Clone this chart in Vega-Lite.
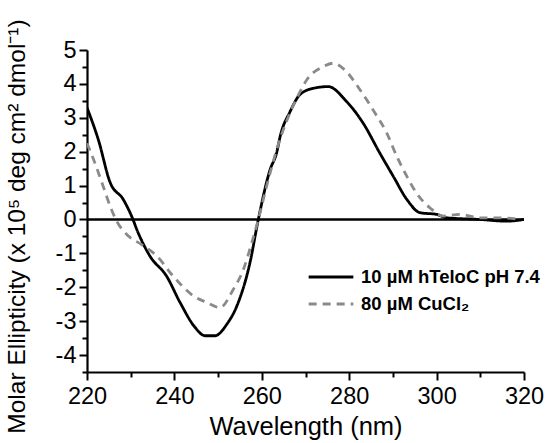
{
  "$schema": "https://vega.github.io/schema/vega-lite/v6.json",
  "width": 437,
  "height": 322,
  "autosize": "none",
  "padding": {"left": 87, "top": 50, "right": 23, "bottom": 71},
  "background": "white",
  "config": {
    "view": {"stroke": null},
    "font": "Liberation Sans",
    "axis": {"grid": false, "domainColor": "black", "domainWidth": 2.2, "tickColor": "black", "tickWidth": 2, "labelColor": "black", "titleColor": "black", "labelFont": "Liberation Sans", "titleFont": "Liberation Sans", "labelFontSize": 23.5, "titleFontSize": 25.5, "titleFontWeight": "normal", "labelOverlap": false, "labelFlush": false}
  },
  "resolve": {"axis": {"x": "independent", "y": "independent"}},
  "datasets": {
    "curves": [
      {"wl": 220, "v": 3.3, "s": "10 µM hTeloC pH 7.4"},
      {"wl": 222.6, "v": 2.35, "s": "10 µM hTeloC pH 7.4"},
      {"wl": 225.3, "v": 1.09, "s": "10 µM hTeloC pH 7.4"},
      {"wl": 228.3, "v": 0.59, "s": "10 µM hTeloC pH 7.4"},
      {"wl": 230.2, "v": 0.1, "s": "10 µM hTeloC pH 7.4"},
      {"wl": 231.7, "v": -0.39, "s": "10 µM hTeloC pH 7.4"},
      {"wl": 234.4, "v": -1.08, "s": "10 µM hTeloC pH 7.4"},
      {"wl": 238.2, "v": -1.67, "s": "10 µM hTeloC pH 7.4"},
      {"wl": 241.3, "v": -2.45, "s": "10 µM hTeloC pH 7.4"},
      {"wl": 244.7, "v": -3.18, "s": "10 µM hTeloC pH 7.4"},
      {"wl": 247, "v": -3.43, "s": "10 µM hTeloC pH 7.4"},
      {"wl": 249.3, "v": -3.43, "s": "10 µM hTeloC pH 7.4"},
      {"wl": 252, "v": -3.09, "s": "10 µM hTeloC pH 7.4"},
      {"wl": 254.3, "v": -2.55, "s": "10 µM hTeloC pH 7.4"},
      {"wl": 257.3, "v": -1.27, "s": "10 µM hTeloC pH 7.4"},
      {"wl": 259.2, "v": 0, "s": "10 µM hTeloC pH 7.4"},
      {"wl": 261.9, "v": 1.47, "s": "10 µM hTeloC pH 7.4"},
      {"wl": 263.4, "v": 1.97, "s": "10 µM hTeloC pH 7.4"},
      {"wl": 264.2, "v": 2.45, "s": "10 µM hTeloC pH 7.4"},
      {"wl": 266.5, "v": 3.19, "s": "10 µM hTeloC pH 7.4"},
      {"wl": 268.7, "v": 3.68, "s": "10 µM hTeloC pH 7.4"},
      {"wl": 271.8, "v": 3.87, "s": "10 µM hTeloC pH 7.4"},
      {"wl": 275.2, "v": 3.92, "s": "10 µM hTeloC pH 7.4"},
      {"wl": 279.4, "v": 3.48, "s": "10 µM hTeloC pH 7.4"},
      {"wl": 283.2, "v": 2.84, "s": "10 µM hTeloC pH 7.4"},
      {"wl": 287, "v": 1.96, "s": "10 µM hTeloC pH 7.4"},
      {"wl": 290.1, "v": 1.27, "s": "10 µM hTeloC pH 7.4"},
      {"wl": 293.2, "v": 0.59, "s": "10 µM hTeloC pH 7.4"},
      {"wl": 296.2, "v": 0.2, "s": "10 µM hTeloC pH 7.4"},
      {"wl": 300, "v": 0.15, "s": "10 µM hTeloC pH 7.4"},
      {"wl": 302.3, "v": 0.05, "s": "10 µM hTeloC pH 7.4"},
      {"wl": 309.9, "v": 0.0, "s": "10 µM hTeloC pH 7.4"},
      {"wl": 316, "v": -0.05, "s": "10 µM hTeloC pH 7.4"},
      {"wl": 320, "v": 0.0, "s": "10 µM hTeloC pH 7.4"},
      {"wl": 220, "v": 2.25, "s": "80 µM CuCl₂"},
      {"wl": 221.8, "v": 1.67, "s": "80 µM CuCl₂"},
      {"wl": 223.7, "v": 0.98, "s": "80 µM CuCl₂"},
      {"wl": 225.3, "v": 0.39, "s": "80 µM CuCl₂"},
      {"wl": 226.8, "v": -0.05, "s": "80 µM CuCl₂"},
      {"wl": 229.5, "v": -0.49, "s": "80 µM CuCl₂"},
      {"wl": 232.5, "v": -0.74, "s": "80 µM CuCl₂"},
      {"wl": 236, "v": -1.08, "s": "80 µM CuCl₂"},
      {"wl": 239.7, "v": -1.67, "s": "80 µM CuCl₂"},
      {"wl": 244.3, "v": -2.25, "s": "80 µM CuCl₂"},
      {"wl": 247.4, "v": -2.45, "s": "80 µM CuCl₂"},
      {"wl": 250.4, "v": -2.6, "s": "80 µM CuCl₂"},
      {"wl": 253.5, "v": -2.06, "s": "80 µM CuCl₂"},
      {"wl": 255.8, "v": -1.47, "s": "80 µM CuCl₂"},
      {"wl": 257.7, "v": -0.69, "s": "80 µM CuCl₂"},
      {"wl": 259.2, "v": 0, "s": "80 µM CuCl₂"},
      {"wl": 261.1, "v": 0.98, "s": "80 µM CuCl₂"},
      {"wl": 263.4, "v": 2.06, "s": "80 µM CuCl₂"},
      {"wl": 266.1, "v": 3.04, "s": "80 µM CuCl₂"},
      {"wl": 268.2, "v": 3.63, "s": "80 µM CuCl₂"},
      {"wl": 270.3, "v": 4.12, "s": "80 µM CuCl₂"},
      {"wl": 274.1, "v": 4.51, "s": "80 µM CuCl₂"},
      {"wl": 276.4, "v": 4.61, "s": "80 µM CuCl₂"},
      {"wl": 279, "v": 4.41, "s": "80 µM CuCl₂"},
      {"wl": 282.5, "v": 3.82, "s": "80 µM CuCl₂"},
      {"wl": 285.9, "v": 3.14, "s": "80 µM CuCl₂"},
      {"wl": 288.6, "v": 2.55, "s": "80 µM CuCl₂"},
      {"wl": 290.9, "v": 1.86, "s": "80 µM CuCl₂"},
      {"wl": 293.2, "v": 1.27, "s": "80 µM CuCl₂"},
      {"wl": 295.4, "v": 0.78, "s": "80 µM CuCl₂"},
      {"wl": 298.5, "v": 0.34, "s": "80 µM CuCl₂"},
      {"wl": 301.5, "v": 0.1, "s": "80 µM CuCl₂"},
      {"wl": 305.4, "v": 0.15, "s": "80 µM CuCl₂"},
      {"wl": 309.9, "v": 0.05, "s": "80 µM CuCl₂"},
      {"wl": 314.5, "v": 0.05, "s": "80 µM CuCl₂"},
      {"wl": 319.1, "v": 0.0, "s": "80 µM CuCl₂"}
    ],
    "zero": [{"z": 0}]
  },
  "layer": [
    {
      "data": {"name": "curves"},
      "mark": {"type": "line", "opacity": 0},
      "encoding": {
        "x": {
          "field": "wl", "type": "quantitative",
          "scale": {"domain": [220, 320], "nice": false, "zero": false},
          "axis": {"orient": "bottom", "title": null, "values": [230, 250, 270, 290, 310], "labels": false, "domain": false, "tickSize": 5}
        },
        "y": {
          "field": "v", "type": "quantitative",
          "scale": {"domain": [-4.5, 5], "nice": false, "zero": false},
          "axis": {"orient": "left", "title": null, "values": [-4.5, -3.5, -2.5, -1.5, -0.5, 0.5, 1.5, 2.5, 3.5, 4.5], "labels": false, "domain": false, "tickSize": 5}
        }
      }
    },
    {
      "data": {"name": "zero"},
      "mark": {"type": "rule", "color": "black", "strokeWidth": 2.5},
      "encoding": {"y": {"field": "z", "type": "quantitative", "axis": null}}
    },
    {
      "data": {"name": "curves"},
      "mark": {"type": "line", "interpolate": "monotone", "clip": true},
      "encoding": {
        "x": {
          "field": "wl", "type": "quantitative",
          "axis": {
            "orient": "bottom",
            "title": "Wavelength (nm)",
            "values": [220, 240, 260, 280, 300, 320],
            "tickSize": 8, "labelPadding": 4, "titlePadding": 7
          }
        },
        "y": {
          "field": "v", "type": "quantitative",
          "axis": {
            "orient": "left",
            "title": "Molar Ellipticity (x 10⁵ deg cm² dmol⁻¹)",
            "titleFontSize": 24.5,
            "values": [-4, -3, -2, -1, 0, 1, 2, 3, 4, 5],
            "labelExpr": "'' + datum.value",
            "tickSize": 8, "labelPadding": 3, "titleX": -70, "titleY": 176, "titleAngle": -90, "titleBaseline": "middle", "titleAlign": "center"
          }
        },
        "color": {
          "field": "s", "type": "nominal",
          "scale": {"domain": ["10 µM hTeloC pH 7.4", "80 µM CuCl₂"], "range": ["#000000", "#8a8a8a"]},
          "legend": {"title": null, "orient": "none", "legendX": 220, "legendY": 216, "symbolType": "stroke", "symbolSize": 2000, "symbolStrokeWidth": 3, "clipHeight": 22, "labelFontSize": 18.5, "labelFontWeight": "bold", "labelColor": "black", "labelFont": "Liberation Sans", "labelLimit": 300, "rowPadding": 5, "labelOffset": 6}
        },
        "strokeDash": {
          "field": "s", "type": "nominal",
          "scale": {"domain": ["10 µM hTeloC pH 7.4", "80 µM CuCl₂"], "range": [[1, 0], [8, 6]]},
          "legend": {"title": null, "orient": "none", "legendX": 220, "legendY": 216, "symbolType": "stroke", "symbolSize": 2000, "symbolStrokeWidth": 3, "clipHeight": 22, "labelFontSize": 18.5, "labelFontWeight": "bold", "labelColor": "black", "labelFont": "Liberation Sans", "labelLimit": 300, "rowPadding": 5, "labelOffset": 6}
        },
        "strokeWidth": {"value": 2.8}
      }
    }
  ]
}
